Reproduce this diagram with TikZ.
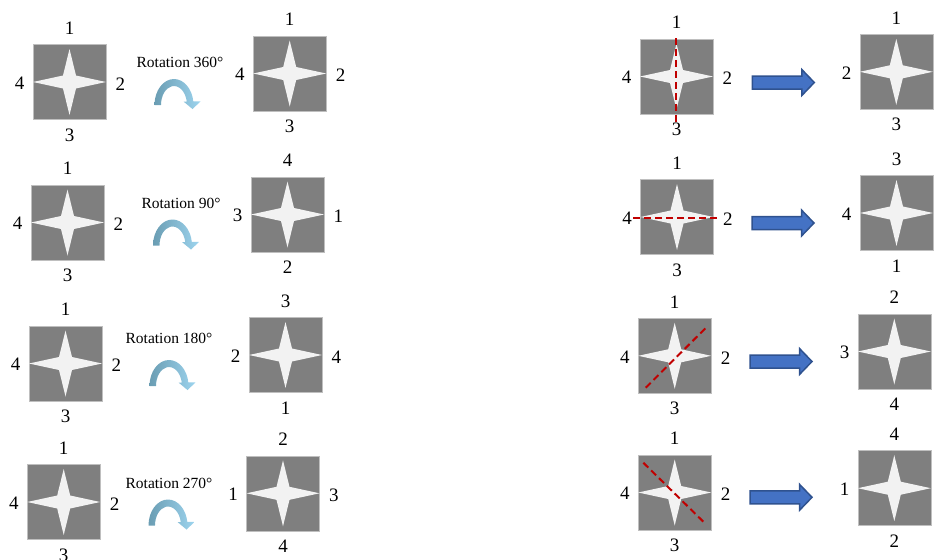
\documentclass[tikz,border=0pt]{standalone}
\usepackage{fontspec}
\setmainfont{Liberation Serif}
\usetikzlibrary{calc}
\definecolor{tilegray}{HTML}{7F7F7F}
\definecolor{starwhite}{HTML}{F2F2F2}
\definecolor{tileedge}{HTML}{BFBFBF}
\definecolor{cutred}{HTML}{C00000}
\definecolor{arrblue}{HTML}{4472C4}
\definecolor{arredge}{HTML}{2F528F}
\definecolor{rotdark}{HTML}{6A9DB3}
\definecolor{rotlight}{HTML}{9DD4EE}
\tikzset{
  tile/.style={fill=tilegray, draw=tileedge, line width=0.6pt, minimum width=73pt, minimum height=75pt, inner sep=0pt},
  starfill/.style={fill=starwhite},
  num/.style={font=\fontsize{19}{20}\selectfont, inner sep=0pt},
  rottext/.style={font=\fontsize{15.5}{17}\selectfont, inner sep=0pt},
  cutline/.style={draw=cutred, line width=2pt, dash pattern=on 7pt off 4pt},
  blockarr/.style={fill=arrblue, draw=arredge, line width=1.5pt, line join=miter},
  rotarr/.style={left color=rotdark, right color=rotlight},
}
% #1 name, #2 position, #3 top, #4 right, #5 bottom, #6 left, #7 right offset
\newcommand\tilebox[7]{%
  \node[tile] (#1) at (#2) {};
  \fill[starfill,shift={(#1.center)}] (-36.5,0) -- (-6.5,-6.5) -- (0,-33) -- (6.5,-6.5) -- (36.5,0) -- (6.5,6.5) -- (0,33) -- (-6.5,6.5) -- cycle;
  \node[num] (#1-t) at ([yshift=16pt]#1.north) {#3};
  \node[num] (#1-r) at ([xshift=#7,yshift=-2pt]#1.east) {#4};
  \node[num] (#1-b) at ([yshift=-15pt]#1.south) {#5};
  \node[num] (#1-l) at ([xshift=-13pt,yshift=-1pt]#1.west) {#6};
}
\newcommand\rotarrow[1]{%
  \shade[rotarr,shift={(#1)}] (-19.5,0) arc[start angle=180, end angle=352, x radius=19.5, y radius=26]
    -- (26.5,-3.5) -- (18.5,4) -- (9.5,-3.5) -- (12.8,-3.3)
    arc[start angle=350, end angle=180, x radius=13, y radius=19] -- cycle;
}
\newcommand\blockarrow[1]{%
  \filldraw[blockarr,shift={(#1)}] (0,-6.5) -- (49.5,-6.5) -- (49.5,-13) -- (62,0) -- (49.5,13) -- (49.5,6.5) -- (0,6.5) -- cycle;
}
\begin{document}
\begin{tikzpicture}[x=1pt,y=-1pt]
\useasboundingbox (0,0) rectangle (938,560);
\clip (0,0) rectangle (938,560);
% left panel: rotations
\tilebox{a1}{69.5,82}{1}{2}{3}{4}{14pt}
\tilebox{b1}{289.7,73.5}{1}{2}{3}{4}{14pt}
\tilebox{a2}{67.5,222.5}{1}{2}{3}{4}{14pt}
\tilebox{b2}{287.5,214.5}{4}{1}{2}{3}{14pt}
\tilebox{a3}{65.5,363.5}{1}{2}{3}{4}{14pt}
\tilebox{b3}{285.5,355}{3}{4}{1}{2}{14pt}
\tilebox{a4}{63.7,502}{1}{2}{3}{4}{14pt}
\tilebox{b4}{283,493.3}{2}{3}{4}{1}{14pt}
\node[rottext] (t1) at (180,62) {Rotation 360°};
\node[rottext] (t2) at (181,203) {Rotation 90°};
\node[rottext] (t3) at (169,338) {Rotation 180°};
\node[rottext] (t4) at (169,483) {Rotation 270°};
\rotarrow{174,105}
\rotarrow{172.5,245.5}
\rotarrow{169,386}
\rotarrow{168,525.5}
% right panel: reflections
\tilebox{c1}{676.5,76.5}{1}{2}{3}{4}{14pt}
\tilebox{d1}{896.3,71.8}{1}{4}{3}{2}{11pt}
\tilebox{c2}{677,217}{1}{2}{3}{4}{14pt}
\tilebox{d2}{896.5,213}{3}{2}{1}{4}{11pt}
\tilebox{c3}{674.7,355.8}{1}{2}{3}{4}{14pt}
\tilebox{d3}{894.3,351.5}{2}{1}{4}{3}{11pt}
\tilebox{c4}{674.7,492.5}{1}{2}{3}{4}{14pt}
\tilebox{d4}{894.3,488.2}{4}{3}{2}{1}{11pt}
\coordinate (r1a) at (676,38);   \coordinate (r1b) at (676,125);
\coordinate (r2a) at (633,218);  \coordinate (r2b) at (720,218);
\coordinate (r3a) at (645.7,387.7); \coordinate (r3b) at (706,327.7);
\coordinate (r4a) at (643.3,462.7); \coordinate (r4b) at (706,524.3);
\draw[cutline] (r1a) -- (r1b);
\draw[cutline] (r2a) -- (r2b);
\draw[cutline] (r3a) -- (r3b);
\draw[cutline] (r4a) -- (r4b);
\blockarrow{752.3,82.5}
\blockarrow{752,223}
\blockarrow{750,361.5}
\blockarrow{750,497.3}
\end{tikzpicture}
\end{document}
